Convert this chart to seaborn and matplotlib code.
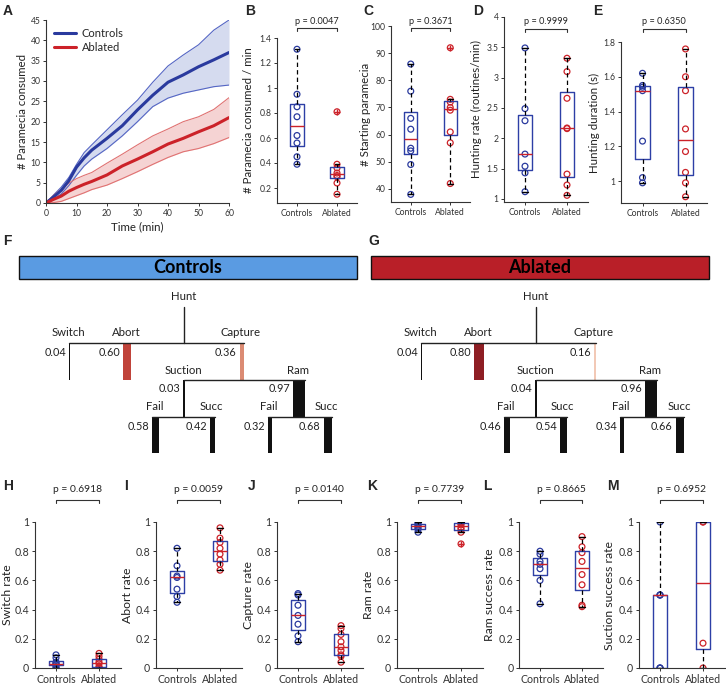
import numpy as np
import pandas as pd
import matplotlib
matplotlib.use("Agg")
import matplotlib.pyplot as plt
import matplotlib.transforms as mtransforms
from matplotlib.colors import LinearSegmentedColormap
from matplotlib.lines import Line2D
import seaborn as sns

W, H = 726, 684

# ---------------- data ----------------
groups = ["Controls", "Ablated"]

# A: cumulative paramecia consumed (mean and SEM band)
time_min = [0, 2.5, 5, 7.5, 10, 12.5, 15, 20, 25, 30, 35, 40, 45, 50, 55, 60]
ctrl_mean = [0, 1.5, 3.1, 5.5, 8.8, 11.1, 13.0, 15.9, 19.0, 22.9, 26.5, 29.7, 31.5, 33.5, 35.2, 37.0]
ctrl_upper = [0, 2.0, 3.9, 6.3, 9.5, 12.4, 14.3, 18.0, 21.7, 25.3, 29.7, 33.7, 36.4, 38.9, 42.5, 45.0]
ctrl_lower = [0, 1.0, 2.2, 4.3, 6.8, 9.1, 10.8, 13.4, 16.5, 20.0, 23.7, 25.8, 27.0, 27.8, 28.6, 29.0]
abl_mean = [0, 0.9, 1.7, 2.9, 3.8, 4.6, 5.3, 6.9, 9.1, 10.8, 12.6, 14.5, 15.9, 17.5, 19.0, 21.0]
abl_upper = [0, 1.9, 3.4, 4.9, 6.0, 6.8, 7.5, 9.8, 12.0, 14.3, 16.5, 18.2, 20.0, 21.2, 23.0, 25.9]
abl_lower = [0, 0.1, 0.4, 1.1, 1.8, 2.5, 3.3, 4.4, 6.0, 7.7, 9.5, 11.2, 12.6, 13.4, 14.6, 16.1]

# B-E
consumed_ctrl = [1.31, 0.95, 0.85, 0.77, 0.62, 0.56, 0.45, 0.39]
consumed_abl = [0.81, 0.39, 0.36, 0.32, 0.30, 0.29, 0.24, 0.15]
start_ctrl = [86, 76, 66, 62, 55, 54, 49, 38]
start_abl = [92, 73, 72, 70, 69, 61, 57, 42]
hunt_rate_ctrl = [3.49, 2.49, 2.29, 1.74, 1.54, 1.43, 1.12]
hunt_rate_abl = [3.32, 3.10, 2.66, 2.17, 2.16, 1.41, 1.23, 1.06]
hunt_dur_ctrl = [1.62, 1.55, 1.54, 1.52, 1.23, 1.02, 0.99]
hunt_dur_abl = [1.76, 1.60, 1.52, 1.30, 1.17, 1.05, 0.99, 0.91]

# H-M
switch_ctrl = [0.09, 0.07, 0.04, 0.03, 0.03, 0.02, 0.01, 0.0]
switch_abl = [0.10, 0.08, 0.06, 0.04, 0.03, 0.01, 0.0, 0.0]
abort_ctrl = [0.82, 0.70, 0.63, 0.62, 0.54, 0.49, 0.45]
abort_abl = [0.96, 0.89, 0.86, 0.82, 0.78, 0.74, 0.71, 0.67]
capture_ctrl = [0.51, 0.50, 0.43, 0.36, 0.30, 0.22, 0.18]
capture_abl = [0.29, 0.27, 0.23, 0.18, 0.145, 0.12, 0.09, 0.08, 0.04]
ram_ctrl = [1.0, 0.99, 0.98, 0.97, 0.96, 0.95, 0.93]
ram_abl = [1.0, 1.0, 0.99, 0.98, 0.96, 0.95, 0.93, 0.85]
ram_succ_ctrl = [0.80, 0.78, 0.73, 0.71, 0.68, 0.60, 0.44]
ram_succ_abl = [0.90, 0.83, 0.79, 0.73, 0.64, 0.57, 0.43, 0.42]
suction_succ_ctrl = [1.0, 0.5, 0.5, 0.5, 0.0, 0.0, 0.0]
suction_succ_abl = [1.0, 1.0, 0.17, 0.0]

p_values = ["p = 0.0047", "p = 0.3671", "p = 0.9999", "p = 0.6350",
            "p = 0.6918", "p = 0.0059", "p = 0.0140", "p = 0.7739", "p = 0.8665", "p = 0.6952"]

# F/G: behaviour tree probabilities
tree_labels = ["Switch", "Abort", "Capture", "Suction", "Ram", "Fail", "Succ", "Fail", "Succ"]
tree_ctrl = [0.04, 0.60, 0.36, 0.03, 0.97, 0.58, 0.42, 0.32, 0.68]
tree_abl = [0.04, 0.80, 0.16, 0.04, 0.96, 0.46, 0.54, 0.34, 0.66]

# ---------------- style ----------------
BLUE = "#2a3a9e"
RED = "#cc2229"
BOX_BLUE = "#2d3fa6"
TXT = "#222222"

sns.set_theme(style="ticks")
plt.rcParams["font.family"] = ["Lato", "DejaVu Sans"]
plt.rcParams.update({
    "axes.edgecolor": "#333333",
    "axes.linewidth": 0.8,
    "xtick.color": "#333333",
    "ytick.color": "#333333",
    "xtick.major.size": 2.5,
    "ytick.major.size": 2.5,
    "xtick.major.width": 0.7,
    "ytick.major.width": 0.7,
    "xtick.major.pad": 2,
    "ytick.major.pad": 1.5,
    "axes.labelcolor": TXT,
})

fig = plt.figure(figsize=(W / 100, H / 100), dpi=100)


def px_axes(left, top, right, bottom):
    return fig.add_axes([left / W, 1 - bottom / H, (right - left) / W, (bottom - top) / H])


def place_ylabel(ax, left, right, center_x):
    # label baseline sits ~4 px right of its visual centre
    ax.yaxis.set_label_coords((center_x + 4 - left) / (right - left), 0.5)


def letter(x, y, s):
    fig.text(x / W, 1 - y / H, s, fontsize=10, fontweight="bold",
             family="Liberation Sans", va="top", ha="left")


def fmt(v, _):
    return f"{v:g}"


def box_panel(ax, ctrl, abl, whis=1.5):
    df = pd.DataFrame({"group": ["Controls"] * len(ctrl) + ["Ablated"] * len(abl),
                       "value": list(ctrl) + list(abl)})
    sns.stripplot(data=df, x="group", y="value", hue="group", order=groups, hue_order=groups,
                  palette={"Controls": BLUE, "Ablated": RED}, jitter=False, size=4.2,
                  linewidth=0.9, legend=False, ax=ax, zorder=1)
    for coll in ax.collections:
        coll.set_edgecolor(coll.get_facecolor())
        coll.set_facecolor("none")
    sns.boxplot(data=df, x="group", y="value", order=groups, fill=False, color=BOX_BLUE,
                width=0.33, whis=whis, linewidth=1.0,
                medianprops={"color": RED, "linewidth": 1.0},
                whiskerprops={"color": "black", "linestyle": (0, (3.5, 2.5)), "linewidth": 0.9},
                capprops={"color": "black", "linewidth": 1.0},
                flierprops={"marker": "+", "markeredgecolor": RED, "markersize": 5,
                            "markeredgewidth": 1.0},
                capwidths=0.12, ax=ax)
    ax.set_xlim(-0.5, 1.5)
    ax.set_xlabel("")
    sns.despine(ax=ax)
    ax.yaxis.set_major_formatter(plt.FuncFormatter(fmt))


def bracket(ax, text, y_line, y_text, fs):
    trans = mtransforms.blended_transform_factory(ax.transData, fig.transFigure)
    yl = 1 - y_line / H
    yt = 1 - (y_line + 3) / H
    ax.plot([0, 0, 1, 1], [yt, yl, yl, yt], transform=trans, color="#333333",
            lw=0.8, clip_on=False)
    ax.text(0.5, 1 - y_text / H, text, transform=trans, ha="center", va="center",
            fontsize=fs, color=TXT, clip_on=False)


# ---------------- A ----------------
axA = px_axes(46, 20, 229, 203)
axA.fill_between(time_min, ctrl_lower, ctrl_upper, color="#d5dbef", lw=0)
axA.fill_between(time_min, abl_lower, abl_upper, color="#f5d3d3", lw=0)
for bound in (ctrl_upper, ctrl_lower):
    sns.lineplot(x=time_min, y=bound, color="#5566c4", lw=0.8, ax=axA)
for bound in (abl_upper, abl_lower):
    sns.lineplot(x=time_min, y=bound, color="#e07272", lw=0.8, ax=axA)
curves = pd.DataFrame({"t": time_min * 2, "v": ctrl_mean + abl_mean,
                       "group": ["Controls"] * len(time_min) + ["Ablated"] * len(time_min)})
sns.lineplot(data=curves, x="t", y="v", hue="group", hue_order=groups,
             palette={"Controls": BLUE, "Ablated": RED}, lw=2.2, legend=False, ax=axA)
axA.set_xlim(0, 60)
axA.set_ylim(0, 45)
axA.set_xticks(range(0, 61, 10))
axA.set_yticks(range(0, 46, 5))
axA.tick_params(labelsize=6.2)
axA.set_xlabel("Time (min)", fontsize=8.3, labelpad=2)
axA.set_ylabel("# Paramecia consumed", fontsize=8.2)
place_ylabel(axA, 46, 229, 24)
handles = [Line2D([], [], color=BLUE, lw=2.2), Line2D([], [], color=RED, lw=2.2)]
axA.legend(handles, groups, loc="upper left", frameon=False, fontsize=8,
           handlelength=2.0, handletextpad=0.5, labelspacing=0.25,
           bbox_to_anchor=(0.02, 0.98), borderaxespad=0)
sns.despine(ax=axA)

# ---------------- B-E ----------------
top_panels = [
    ((277, 38, 357, 203), consumed_ctrl, consumed_abl, (0.08, 1.4), np.arange(0.2, 1.41, 0.2),
     "# Paramecia consumed / min", 250),
    ((391, 26, 470, 202), start_ctrl, start_abl, (35.2, 100), np.arange(40, 101, 10),
     "# Starting paramecia", 367),
    ((504, 17, 588, 202), hunt_rate_ctrl, hunt_rate_abl, (0.95, 4.0), np.arange(1, 4.01, 0.5),
     "Hunting rate (routines/min)", 478),
    ((621, 42, 707, 203), hunt_dur_ctrl, hunt_dur_abl, (0.874, 1.8), np.arange(1, 1.81, 0.2),
     "Hunting duration (s)", 596),
]
top_brackets = [(28, 21), (28, 21), (29, 22), (29, 22)]
for i, (box, c, a, ylim, yt, ylab, lab_x) in enumerate(top_panels):
    ax = px_axes(*box)
    box_panel(ax, c, a)
    ax.set_ylim(*ylim)
    ax.set_yticks(yt)
    ax.tick_params(labelsize=6.2)
    ax.set_ylabel(ylab, fontsize=8.3)
    place_ylabel(ax, box[0], box[2], lab_x)
    bracket(ax, p_values[i], top_brackets[i][0], top_brackets[i][1], 6.6)

# ---------------- H-M ----------------
bottom_panels = [
    ((34.5, 120.5), switch_ctrl, switch_abl, "Switch rate", 1.5, 9),
    ((155.5, 241.5), abort_ctrl, abort_abl, "Abort rate", 1.5, 129),
    ((276.5, 362.5), capture_ctrl, capture_abl, "Capture rate", 1.5, 250),
    ((396.5, 482.5), ram_ctrl, ram_abl, "Ram rate", 1.5, 370),
    ((519, 603), ram_succ_ctrl, ram_succ_abl, "Ram success rate", 2.0, 491),
    ((638.5, 724.5), suction_succ_ctrl, suction_succ_abl, "Suction success rate", 1.5, 611),
]
for i, ((l, r), c, a, ylab, wh, lab_x) in enumerate(bottom_panels):
    ax = px_axes(l, 522, r, 668)
    box_panel(ax, c, a, wh)
    ax.set_ylim(0, 1)
    ax.set_yticks(np.arange(0, 1.01, 0.2))
    ax.tick_params(labelsize=7.6)
    ax.set_ylabel(ylab, fontsize=8.8)
    place_ylabel(ax, l, r, lab_x)
    bracket(ax, p_values[4 + i], 500, 490, 7.4)

# ---------------- F/G trees ----------------
axT = fig.add_axes([0, 1 - 460 / H, 1, 230 / H])
axT.set_xlim(0, W)
axT.set_ylim(460, 230)
axT.axis("off")

shade = LinearSegmentedColormap.from_list(
    "tree_red", [(0, "#ffffff"), (0.16, "#f2c8b5"), (0.36, "#db8b73"),
                 (0.6, "#c0433a"), (0.8, "#8e1e24"), (1.0, "#5a0a10")])

# layout: anchor x, side, level   (one per tree_labels entry)
branch_x = [69, 127, 244, 184, 305, 152, 215, 268, 332]
branch_side = ["left", "center", "right", "center", "right", "left", "right", "left", "right"]
branch_level = [0, 0, 0, 1, 1, 2, 2, 2, 2]
level_top = [343, 380, 417]
level_bottom = [380, 417, 453]
h_segments = [(69, 244, 0), (184, 305, 1), (152, 215, 2), (268, 332, 2)]
BAR_SCALE = 12.5
LINE = "#222222"


def draw_tree(off, probs, title, face):
    axT.add_patch(plt.Rectangle((19 + off, 256), 338, 23, facecolor=face,
                                edgecolor="#111111", lw=1.0))
    axT.text(188 + off, 267.5, title, ha="center", va="center", fontsize=13,
             fontweight="bold", color="black")
    axT.text(184 + off, 296, "Hunt", ha="center", va="center", fontsize=8.2, color=TXT)
    axT.plot([184 + off, 184 + off], [307, 343], color=LINE, lw=1.0)
    for x0, x1, lev in h_segments:
        axT.plot([x0 + off, x1 + off], [level_top[lev]] * 2, color=LINE, lw=1.0)
    for name, p, x, side, lev in zip(tree_labels, probs, branch_x, branch_side, branch_level):
        w = max(p * BAR_SCALE, 1.3)
        if side == "left":
            left = x
        elif side == "right":
            left = x - w
        else:
            left = x - w / 2
        color = shade(p) if name in ("Abort", "Capture") else "#111111"
        y0, y1 = level_top[lev], level_bottom[lev]
        axT.bar(left + off, y1 - y0, width=w, bottom=y0, align="edge", color=color, lw=0)
        axT.text(left + w / 2 + off - 1, y0 - 10, name, ha="center", va="center",
                 fontsize=8.2, color=TXT)
        axT.text(left - 3 + off, y0 + 9, f"{p:.2f}", ha="right", va="center",
                 fontsize=7.8, color=TXT)


draw_tree(0, tree_ctrl, "Controls", "#5a9be2")
draw_tree(352, tree_abl, "Ablated", "#b91f28")

# ---------------- panel letters ----------------
for s, x, y in [("A", 3, 4), ("B", 245, 4), ("C", 363, 4), ("D", 473, 4), ("E", 593, 4),
                ("F", 3, 234), ("G", 368, 234), ("H", 3, 479), ("I", 124, 479),
                ("J", 248, 479), ("K", 367, 479), ("L", 483, 479), ("M", 607, 479)]:
    letter(x, y, s)

fig.savefig("out.png", dpi=100)
